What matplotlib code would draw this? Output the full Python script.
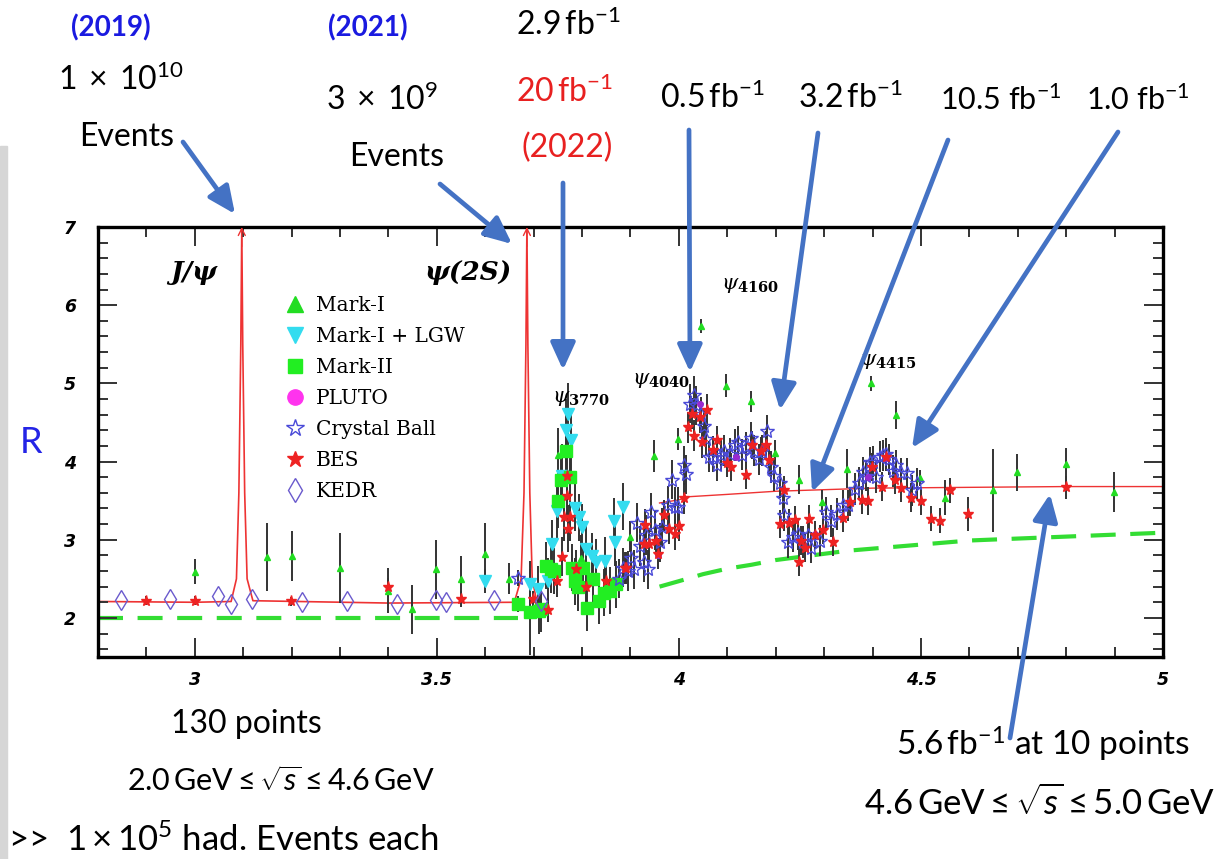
import matplotlib
matplotlib.use('Agg')
import matplotlib.pyplot as plt
from matplotlib.lines import Line2D
from matplotlib.patches import Rectangle

plt.rcParams['mathtext.fontset'] = 'custom'
plt.rcParams['mathtext.rm'] = 'Lato'
plt.rcParams['mathtext.it'] = 'Lato:italic'
plt.rcParams['mathtext.bf'] = 'Lato:bold'

# ---------------- data ----------------
markI_E = [3.000, 3.149, 3.200, 3.300, 3.399, 3.448, 3.499, 3.549, 3.599, 3.649,
           3.750, 3.797, 3.899, 3.948, 3.998, 4.046, 4.098, 4.149, 4.198, 4.249,
           4.296, 4.348, 4.397, 4.449, 4.497, 4.549, 4.649, 4.699, 4.800, 4.898]
markI_R = [2.59, 2.78, 2.79, 2.64, 2.35, 2.11, 2.62, 2.50, 2.82, 2.50,
           4.08, 2.76, 3.04, 4.07, 4.29, 5.73, 4.97, 4.77, 4.11, 3.77,
           3.48, 3.91, 5.00, 4.59, 3.79, 3.54, 3.63, 3.86, 3.97, 3.61]
markI_err = [0.16, 0.43, 0.32, 0.45, 0.29, 0.31, 0.38, 0.29, 0.40, 0.20,
             0.35, 0.30, 0.20, 0.20, 0.14, 0.09, 0.15, 0.13, 0.17, 0.18,
             0.16, 0.25, 0.10, 0.18, 0.10, 0.23, 0.53, 0.24, 0.20, 0.26]

lgw_E = [3.599, 3.692, 3.709, 3.729, 3.738, 3.748, 3.758, 3.767, 3.771, 3.778,
         3.785, 3.793, 3.800, 3.809, 3.820, 3.829, 3.847, 3.866, 3.867, 3.884]
lgw_R = [2.47, 2.43, 2.37, 2.47, 2.95, 3.37, 3.82, 4.40, 4.61, 4.27,
         3.41, 3.29, 3.16, 2.88, 2.79, 2.71, 2.73, 3.24, 2.97, 3.42]
lgw_err = [0.15, 0.30, 0.30, 0.30, 0.30, 0.35, 0.40, 0.40, 0.40, 0.40,
           0.30, 0.30, 0.30, 0.30, 0.30, 0.30, 0.30, 0.30, 0.30, 0.30]

markII_E = [3.667, 3.692, 3.712, 3.716, 3.726, 3.735, 3.743, 3.750, 3.756, 3.767,
            3.774, 3.779, 3.785, 3.791, 3.802, 3.810, 3.822, 3.834, 3.846, 3.857, 3.870]
markII_R = [2.18, 2.07, 2.09, 2.12, 2.67, 2.62, 2.60, 3.50, 3.76, 4.14,
            3.80, 2.64, 2.47, 2.39, 2.64, 2.13, 2.50, 2.22, 2.32, 2.35, 2.43]
markII_err = [0.10, 0.55, 0.30, 0.30, 0.30, 0.30, 0.30, 0.35, 0.35, 0.40,
              0.40, 0.30, 0.30, 0.30, 0.30, 0.30, 0.30, 0.30, 0.30, 0.30, 0.30]

pluto_E = [3.957, 4.043, 4.118, 4.281, 4.390, 4.428]
pluto_R = [2.81, 4.74, 4.06, 3.07, 3.80, 4.04]

cb_E = [3.667, 3.877, 3.884, 3.895, 3.901, 3.908, 3.914, 3.919, 3.927, 3.932,
        3.937, 3.943, 3.950, 3.960, 3.965, 3.977, 3.985, 3.992, 3.998, 4.010,
        4.015, 4.022, 4.032, 4.036, 4.045, 4.052, 4.056, 4.063, 4.070, 4.079,
        4.087, 4.094, 4.105, 4.115, 4.122, 4.131, 4.139, 4.149, 4.156, 4.165,
        4.172, 4.182, 4.190, 4.197, 4.208, 4.215, 4.218, 4.225, 4.236, 4.246,
        4.256, 4.267, 4.272, 4.291, 4.304, 4.315, 4.326, 4.339, 4.349, 4.363,
        4.372, 4.380, 4.387, 4.394, 4.401, 4.408, 4.415, 4.422, 4.428, 4.433,
        4.442, 4.449, 4.459, 4.472, 4.482, 4.491]
cb_R = [2.51, 2.50, 2.64, 2.60, 2.77, 2.62, 3.22, 2.92, 2.71, 3.06,
        2.62, 3.35, 3.12, 2.97, 3.16, 3.44, 3.77, 3.42, 3.42, 3.95,
        3.84, 4.74, 4.85, 4.72, 4.61, 4.46, 4.29, 4.06, 4.06, 3.95,
        4.08, 4.14, 4.10, 4.21, 4.25, 4.09, 4.18, 4.30, 4.14, 4.03,
        4.14, 4.39, 3.93, 3.82, 3.73, 3.54, 3.31, 2.97, 3.04, 3.07,
        2.97, 3.06, 2.90, 2.99, 3.35, 3.24, 3.33, 3.44, 3.44, 3.65,
        3.73, 3.86, 3.82, 3.99, 4.00, 3.80, 4.06, 4.08, 4.10, 4.03,
        3.88, 3.95, 3.85, 3.85, 3.63, 3.72]
cb_err = [0.10, 0.25, 0.25, 0.25, 0.25, 0.25, 0.25, 0.25, 0.25, 0.25,
          0.25, 0.25, 0.25, 0.25, 0.25, 0.25, 0.25, 0.25, 0.25, 0.25,
          0.25, 0.25, 0.25, 0.25, 0.22, 0.22, 0.22, 0.20, 0.20, 0.20,
          0.20, 0.20, 0.20, 0.20, 0.20, 0.20, 0.20, 0.20, 0.20, 0.20,
          0.20, 0.20, 0.20, 0.20, 0.20, 0.20, 0.20, 0.20, 0.20, 0.20,
          0.20, 0.20, 0.20, 0.20, 0.20, 0.20, 0.20, 0.20, 0.20, 0.20,
          0.20, 0.20, 0.20, 0.20, 0.20, 0.20, 0.20, 0.20, 0.20, 0.20,
          0.20, 0.20, 0.20, 0.20, 0.20, 0.20]

bes_E = [2.899, 3.000, 3.199, 3.399, 3.549, 3.698, 3.729, 3.749, 3.758, 3.762,
         3.768, 3.769, 3.771, 3.774, 3.788, 3.809, 3.850, 3.888, 3.891, 3.928,
         3.929, 3.939, 3.953, 3.957, 3.970, 3.979, 3.991, 4.000, 4.010, 4.019,
         4.027, 4.032, 4.043, 4.048, 4.059, 4.070, 4.079, 4.100, 4.108, 4.139,
         4.151, 4.170, 4.180, 4.187, 4.208, 4.218, 4.228, 4.239, 4.249, 4.253,
         4.260, 4.268, 4.281, 4.298, 4.318, 4.339, 4.353, 4.378, 4.390, 4.399,
         4.420, 4.428, 4.447, 4.459, 4.479, 4.500, 4.520, 4.539, 4.559, 4.598, 4.800]
bes_R = [2.22, 2.22, 2.21, 2.39, 2.24, 2.24, 2.10, 2.47, 2.78, 3.29,
         3.82, 3.56, 3.14, 3.29, 2.62, 2.39, 2.47, 2.64, 2.64, 2.95,
         3.19, 2.94, 2.99, 2.82, 3.31, 3.14, 3.07, 3.18, 3.53, 4.44,
         4.61, 4.33, 4.57, 4.25, 4.66, 4.15, 4.27, 3.98, 3.93, 3.83,
         4.21, 4.13, 4.21, 4.02, 3.20, 3.63, 3.21, 3.25, 2.71, 2.99,
         2.90, 3.27, 3.06, 3.12, 2.97, 3.28, 3.48, 3.51, 3.50, 3.93,
         3.68, 4.06, 3.76, 3.66, 3.54, 3.50, 3.27, 3.24, 3.63, 3.33, 3.67]
bes_err = [0.06, 0.06, 0.06, 0.12, 0.10, 0.10, 0.15, 0.20, 0.25, 0.30,
           0.30, 0.30, 0.30, 0.30, 0.25, 0.20, 0.20, 0.20, 0.20, 0.20,
           0.20, 0.20, 0.20, 0.20, 0.20, 0.20, 0.20, 0.20, 0.20, 0.20,
           0.20, 0.20, 0.20, 0.20, 0.20, 0.18, 0.18, 0.18, 0.18, 0.18,
           0.18, 0.18, 0.18, 0.18, 0.18, 0.18, 0.18, 0.18, 0.18, 0.18,
           0.18, 0.18, 0.18, 0.18, 0.18, 0.18, 0.18, 0.18, 0.18, 0.18,
           0.18, 0.18, 0.18, 0.18, 0.18, 0.18, 0.16, 0.16, 0.16, 0.22, 0.15]

kedr_E = [2.848, 2.948, 3.048, 3.075, 3.118, 3.222, 3.314, 3.418, 3.499, 3.519, 3.617, 3.716]
kedr_R = [2.23, 2.24, 2.28, 2.18, 2.24, 2.20, 2.22, 2.18, 2.23, 2.20, 2.23, 2.21]

# pQCD curve with the two narrow resonances, and the high-energy part
red1_E = [2.80, 3.00, 3.075, 3.086, 3.091, 3.095, 3.097, 3.099, 3.103, 3.108, 3.12,
          3.40, 3.66, 3.674, 3.680, 3.684, 3.686, 3.688, 3.692, 3.697, 3.705]
red1_R = [2.21, 2.20, 2.21, 2.50, 3.60, 5.50, 7.00, 5.50, 3.60, 2.50, 2.22,
          2.19, 2.20, 2.50, 3.60, 5.50, 7.00, 5.50, 3.60, 2.50, 2.25]
red2_E = [3.96, 4.00, 4.02, 4.10, 4.20, 4.30, 4.40, 4.60, 4.80, 5.00]
red2_R = [3.47, 3.51, 3.55, 3.58, 3.62, 3.64, 3.66, 3.67, 3.68, 3.68]

green1_E = [2.80, 3.667]
green1_R = [2.00, 2.00]
green2_E = [3.96, 4.00, 4.05, 4.10, 4.15, 4.20, 4.35, 4.60, 4.80, 5.00]
green2_R = [2.40, 2.47, 2.56, 2.63, 2.68, 2.74, 2.86, 2.99, 3.04, 3.09]

peaks_E = [3.097, 3.686]

# ---------------- figure ----------------
W, H = 1227, 859
fig = plt.figure(figsize=(W / 100, H / 100), dpi=100)
fig.patches.append(Rectangle((0, 0), 7 / W, 0.83, transform=fig.transFigure,
                             color='#d6d6d6', zorder=0))
ax = fig.add_axes([98 / W, (H - 657) / H, (1163 - 98) / W, 430 / H])

ax.plot(green1_E, green1_R, color='#33dd33', lw=3, dashes=(6, 3.5), zorder=1)
ax.plot(green2_E, green2_R, color='#33dd33', lw=3, dashes=(6, 3.5), zorder=1)
ax.plot(red1_E, red1_R, color='#ee3333', lw=1.2, zorder=1)
ax.plot(red2_E, red2_R, color='#ee3333', lw=1.0, zorder=1)
for e in peaks_E:
    ax.annotate('', xy=(e, 7.0), xytext=(e, 6.75),
                arrowprops=dict(arrowstyle='->,head_length=0.5,head_width=0.25',
                                color='#ee3333', lw=1.0, shrinkA=0, shrinkB=0),
                annotation_clip=False)

ebar = dict(fmt='none', ecolor='#333333', elinewidth=1.4, capsize=0, zorder=2)
ax.errorbar(markI_E, markI_R, yerr=markI_err, **ebar)
ax.errorbar(lgw_E, lgw_R, yerr=lgw_err, **ebar)
ax.errorbar(markII_E, markII_R, yerr=markII_err, **ebar)
ax.errorbar(cb_E, cb_R, yerr=cb_err, **ebar)
ax.errorbar(bes_E, bes_R, yerr=bes_err, **ebar)

ax.plot(markI_E, markI_R, ls='none', marker='^', ms=4, color='#22dd22', zorder=3)
ax.plot(lgw_E, lgw_R, ls='none', marker='v', ms=8, color='#33dcef', zorder=3)
ax.plot(markII_E, markII_R, ls='none', marker='s', ms=8, color='#22ee22', zorder=3)
ax.plot(cb_E, cb_R, ls='none', marker='*', ms=10, mfc='none', mec='#4a4ad8',
        mew=1.0, zorder=4)
ax.plot(pluto_E, pluto_R, ls='none', marker='o', ms=4, color='#9a2ad0', zorder=4)
ax.plot(bes_E, bes_R, ls='none', marker='*', ms=8, color='#ee2222', zorder=5)
ax.plot(kedr_E, kedr_R, ls='none', marker='d', ms=10, mfc='none', mec='#6a5acd',
        mew=1.0, zorder=5)

ax.set_xlim(2.8, 5.0)
ax.set_ylim(1.5, 7.0)
ax.set_xticks([3, 3.5, 4, 4.5, 5])
ax.set_xticklabels(['3', '3.5', '4', '4.5', '5'])
ax.set_yticks([2, 3, 4, 5, 6, 7])
ax.set_xticks([x / 10 for x in range(28, 51)], minor=True)
ax.set_yticks([y / 5 for y in range(8, 36)], minor=True)
ax.tick_params(which='both', direction='in', top=True, right=True, width=1.4,
               color='#333333')
ax.tick_params(which='major', length=14)
ax.tick_params(which='minor', length=7)
ax.tick_params(axis='x', pad=10)
ax.tick_params(axis='y', pad=16)
for lab in ax.get_xticklabels() + ax.get_yticklabels():
    lab.set_fontweight('bold')
    lab.set_fontstyle('italic')
    lab.set_fontsize(12.5)
for sp in ax.spines.values():
    sp.set_linewidth(2.4)

# legend
handles = [
    Line2D([], [], ls='none', marker='^', ms=11, color='#22dd22'),
    Line2D([], [], ls='none', marker='v', ms=11, color='#33dcef'),
    Line2D([], [], ls='none', marker='s', ms=10, color='#22ee22'),
    Line2D([], [], ls='none', marker='o', ms=11, color='#ff33ee'),
    Line2D([], [], ls='none', marker='*', ms=13, mfc='none', mec='#4a4ad8'),
    Line2D([], [], ls='none', marker='*', ms=12, color='#ee2222'),
    Line2D([], [], ls='none', marker='d', ms=12, mfc='none', mec='#6a5acd'),
]
labels = ['Mark-I', 'Mark-I + LGW', 'Mark-II', 'PLUTO', 'Crystal Ball', 'BES', 'KEDR']
ax.legend(handles, labels, loc='upper left', bbox_to_anchor=(0.174, 0.84),
          frameon=False, handlelength=1.2, handletextpad=0.4, labelspacing=0.6,
          borderaxespad=0, borderpad=0, prop={'family': 'DejaVu Serif', 'size': 14.5})

# resonance labels
serif_bi = dict(family='DejaVu Serif', fontweight='bold', fontstyle='italic',
                ha='center', va='center')
ax.text(2.998, 6.42, 'J/ψ', fontsize=19, **serif_bi)
ax.text(3.564, 6.42, 'ψ(2S)', fontsize=19, **serif_bi)
psi_kw = dict(math_fontfamily='dejavuserif', fontsize=15, ha='center', va='center')
ax.text(3.797, 4.81, r'$\psi_{\mathbf{3770}}$', **psi_kw)
ax.text(3.963, 5.04, r'$\psi_{\mathbf{4040}}$', **psi_kw)
ax.text(4.147, 6.26, r'$\psi_{\mathbf{4160}}$', **psi_kw)
ax.text(4.432, 5.29, r'$\psi_{\mathbf{4415}}$', **psi_kw)


def ftext(x, y, s, **kw):
    kw.setdefault('ha', 'center')
    kw.setdefault('va', 'center')
    kw.setdefault('family', 'Lato')
    fig.text(x / W, 1 - y / H, s, **kw)


ftext(111, 28, '(2019)', color='#1a1ae0', fontweight='bold', fontsize=20)
ftext(368, 28, '(2021)', color='#1a1ae0', fontweight='bold', fontsize=20)
ftext(121, 80, r'$1\;\times\;10^{10}$', fontsize=23)
ftext(127, 137, 'Events', fontsize=23)
ftext(382, 100, r'$3\;\times\;10^{9}$', fontsize=23)
ftext(397, 157, 'Events', fontsize=23)
ftext(568, 25, r'$2.9\,\mathrm{fb}^{-1}$', fontsize=23)
ftext(565, 92, r'$20\,\mathrm{fb}^{-1}$', fontsize=23, color='#e82020')
ftext(567, 148, '(2022)', fontsize=23, color='#e82020')
ftext(712, 98, r'$0.5\,\mathrm{fb}^{-1}$', fontsize=23)
ftext(850, 98, r'$3.2\,\mathrm{fb}^{-1}$', fontsize=23)
ftext(1001, 100, r'10.5 fb$^{\mathrm{-1}}$', fontsize=22)
ftext(1138, 100, r'1.0 fb$^{\mathrm{-1}}$', fontsize=22)
ftext(31, 442, 'R', fontsize=26, color='#2424e6')
ftext(246, 724, '130 points', fontsize=23)
ftext(281, 781, r'$2.0\,\mathrm{GeV} \leq \sqrt{s} \leq 4.6\,\mathrm{GeV}$', fontsize=22)
ftext(8, 840, r'>>  $1\times10^{5}$ had. Events each', fontsize=25, ha='left')
ftext(1043, 744, r'$5.6\,\mathrm{fb}^{-1}$ at 10 points', fontsize=24)
ftext(1040, 803, r'$4.6\,\mathrm{GeV} \leq \sqrt{s} \leq 5.0\,\mathrm{GeV}$', fontsize=25)

# blue arrows (tail -> head, figure pixels from top)
arrows = [((183, 142), (235, 214)), ((440, 184), (512, 244)),
          ((563, 183), (563, 370)), ((689, 130), (690, 372)),
          ((818, 133), (780, 410)), ((948, 140), (812, 492)),
          ((1118, 132), (912, 448)), ((1010, 738), (1050, 494))]
for (tx, ty), (hx, hy) in arrows:
    ax.annotate('', xy=(hx, H - hy), xycoords='figure pixels',
                xytext=(tx, H - ty), textcoords='figure pixels',
                arrowprops=dict(arrowstyle='-|>,head_length=1.1,head_width=0.5',
                                mutation_scale=15, lw=3.4, color='#4472c4',
                                shrinkA=0, shrinkB=0),
                annotation_clip=False, zorder=10)

fig.savefig('out.png', dpi=100)
